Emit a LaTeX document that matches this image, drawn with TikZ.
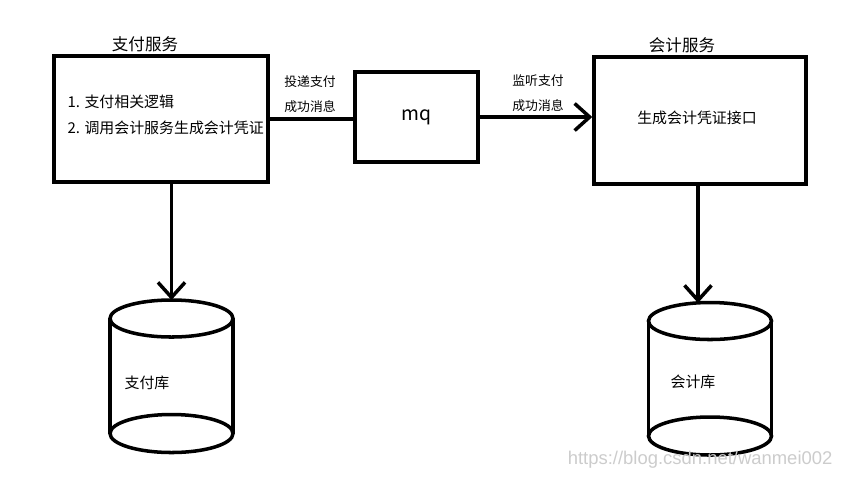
\documentclass[tikz,border=0pt]{standalone}
\usepackage{fontspec}
\newfontfamily\cjk{Noto Sans CJK SC}
\newfontfamily\wmfont{Liberation Sans}
\usetikzlibrary{positioning, arrows.meta}

\begin{document}
\begin{tikzpicture}[x=0.02cm, y=-0.02cm, line width=2pt,
    box/.style={draw, inner sep=0pt},
    tip/.style={-{Straight Barb[length=3mm, width=5.4mm]}},
    body/.style={font=\cjk\fontsize{8.5}{14.7}\selectfont, align=left},
    title/.style={font=\cjk\fontsize{9.4}{11}\selectfont},
    msg/.style={font=\cjk\fontsize{7.3}{14}\selectfont, align=center}]
    \useasboundingbox (0,0) rectangle (848,478);
    % services and queue
    \node[box, minimum width=4.28cm, minimum height=2.52cm] (pay) at (161,119) {};
    \node[box, minimum width=2.46cm, minimum height=1.8cm,
          font=\cjk\fontsize{11}{13}\selectfont] (mq) at (416.5,117) {mq};
    \node[box, minimum width=4.24cm, minimum height=2.54cm] (acct) at (700,120.5) {};
    \node[title] (paytitle) at (145,44) {支付服务};
    \node[title] (accttitle) at (682,45) {会计服务};
    \node[body, anchor=west] (paytext) at (60,115) {1. 支付相关逻辑\\2. 调用会计服务生成会计凭证};
    \node[body] (accttext) at (697,118) {生成会计凭证接口};
    % messages
    \draw (pay.east) -- (pay.east -| mq.west);
    \node[msg] (sendlbl) at (310,94) {投递支付\\成功消息};
    \draw[tip] (mq.east) -- (mq.east -| acct.west);
    \node[msg] (listenlbl) at (538,93) {监听支付\\成功消息};
    % databases
    \coordinate (paydb) at (171.5,300);
    \coordinate (acctdb) at (698,303);
    \foreach \cx/\top in {171.5/318.5, 710/321} {
        \draw (\cx,\top) ellipse [x radius=61.5, y radius=18.5];
        \draw (\cx,\top+115) ellipse [x radius=61.5, y radius=19];
        \draw (\cx-61.5,\top) -- (\cx-61.5,\top+115);
        \draw (\cx+61.5,\top) -- (\cx+61.5,\top+115);
    }
    \draw[tip] (pay.south -| paydb) -- (paydb);
    \draw[tip] (acct.south -| acctdb) -- (acctdb);
    \node[body] (paydblbl) at (147,383) {支付库};
    \node[body] (acctdblbl) at (693,382) {会计库};
    \node[font=\wmfont\fontsize{10.5}{13}\selectfont, text=gray!40, anchor=east] (wm) at (840,460) {https://blog.csdn.net/wanmei002};
\end{tikzpicture}
\end{document}
